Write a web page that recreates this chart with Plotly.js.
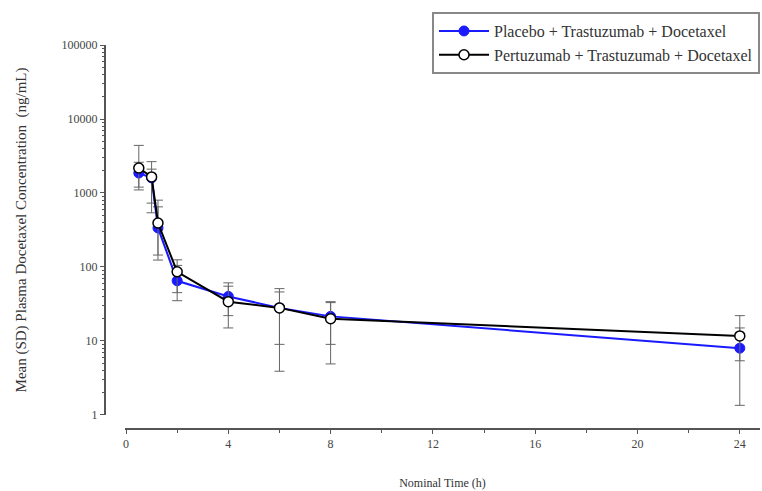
<!DOCTYPE html>
<html>
<head>
<meta charset="utf-8">
<script src="https://cdn.plot.ly/plotly-3.0.1.min.js"></script>
<style>html,body{margin:0;padding:0;background:#fff;}#chart{width:762px;height:491px;}</style>
</head>
<body>
<div id="chart"></div>
<script>
// Nominal time (h)
var times = [0.5, 1, 1.25, 2, 4, 6, 8, 24];

// Placebo + Trastuzumab + Docetaxel
var placeboMean  = [1860, 1600, 337, 65, 40, 28, 21.5, 8.0];
var placeboUpper = [2600, 2100, 650, 105, 55, 46, 33, 15];
var placeboLower = [1100, 730, 124, 35, 22, 9, 9, 5.4];

// Pertuzumab + Trastuzumab + Docetaxel
var pertuzMean  = [2180, 1650, 393, 86, 34, 28, 20, 11.7];
var pertuzUpper = [4400, 2650, 800, 125, 61, 51, 34, 22];
var pertuzLower = [1200, 540, 145, 45, 15, 3.9, 4.9, 1.35];

function diff(a, b) { return a.map(function (v, i) { return Math.abs(v - b[i]); }); }

var font = 'Liberation Serif, Times New Roman, serif';
var errColor = '#666666';

var traces = [
  {
    x: times, y: placeboMean, type: 'scatter', mode: 'lines+markers',
    name: 'Placebo + Trastuzumab + Docetaxel',
    line: {color: '#1a1aff', width: 2},
    marker: {color: '#1a1aff', size: 10, line: {color: '#1a1aff', width: 1}},
    error_y: {type: 'data', symmetric: false,
      array: diff(placeboUpper, placeboMean), arrayminus: diff(placeboMean, placeboLower),
      color: errColor, thickness: 1, width: 5}
  },
  {
    x: times, y: pertuzMean, type: 'scatter', mode: 'lines+markers',
    name: 'Pertuzumab + Trastuzumab + Docetaxel',
    line: {color: '#000000', width: 2},
    marker: {color: '#ffffff', size: 10, line: {color: '#000000', width: 1.5}},
    error_y: {type: 'data', symmetric: false,
      array: diff(pertuzUpper, pertuzMean), arrayminus: diff(pertuzMean, pertuzLower),
      color: errColor, thickness: 1, width: 5}
  }
];

var layout = {
  width: 762, height: 491,
  paper_bgcolor: '#ffffff', plot_bgcolor: '#ffffff',
  margin: {l: 104, r: 2, t: 45, b: 63},
  font: {family: font, size: 11, color: '#333333'},
  showlegend: true,
  legend: {
    x: 0.5, y: 1.086, xanchor: 'left', yanchor: 'top',
    bgcolor: '#ffffff', bordercolor: '#888888', borderwidth: 2,
    font: {family: font, size: 16, color: '#333333'},
    itemwidth: 50,
    tracegroupgap: 0
  },
  xaxis: {
    domain: [0.032, 1], anchor: 'free', position: 0,
    range: [-0.04, 24.79], tickmode: 'linear', tick0: 0, dtick: 4,
    ticks: 'outside', ticklen: 4, tickcolor: '#555', tickwidth: 1,
    showline: true, linecolor: '#555', linewidth: 1.5,
    showgrid: false, zeroline: false,
    minor: {ticks: 'outside', ticklen: 3, dtick: 2, tick0: 0, tickcolor: '#555', showgrid: false},
    tickfont: {family: font, size: 12, color: '#444'},
    title: {text: 'Nominal Time (h)', font: {family: font, size: 12, color: '#333'}, standoff: 28}
  },
  yaxis: {
    domain: [0.034, 1], anchor: 'free', position: 0,
    type: 'log', range: [0, 5], dtick: 1, tick0: 0, tickformat: 'd',
    ticks: 'outside', ticklen: 4, tickcolor: '#555', tickwidth: 1,
    showline: true, linecolor: '#555', linewidth: 1.5,
    showgrid: false, zeroline: false,
    minor: {ticks: 'outside', ticklen: 2, dtick: 'D1', tickcolor: '#555', showgrid: false},
    tickfont: {family: font, size: 12, color: '#444'},
    title: {text: 'Mean (SD) Plasma Docetaxel Concentration  (ng/mL)', font: {family: font, size: 15, color: '#333'}, standoff: 30}
  }
};

Plotly.newPlot('chart', traces, layout, {displayModeBar: false, staticPlot: true});
</script>
</body>
</html>
